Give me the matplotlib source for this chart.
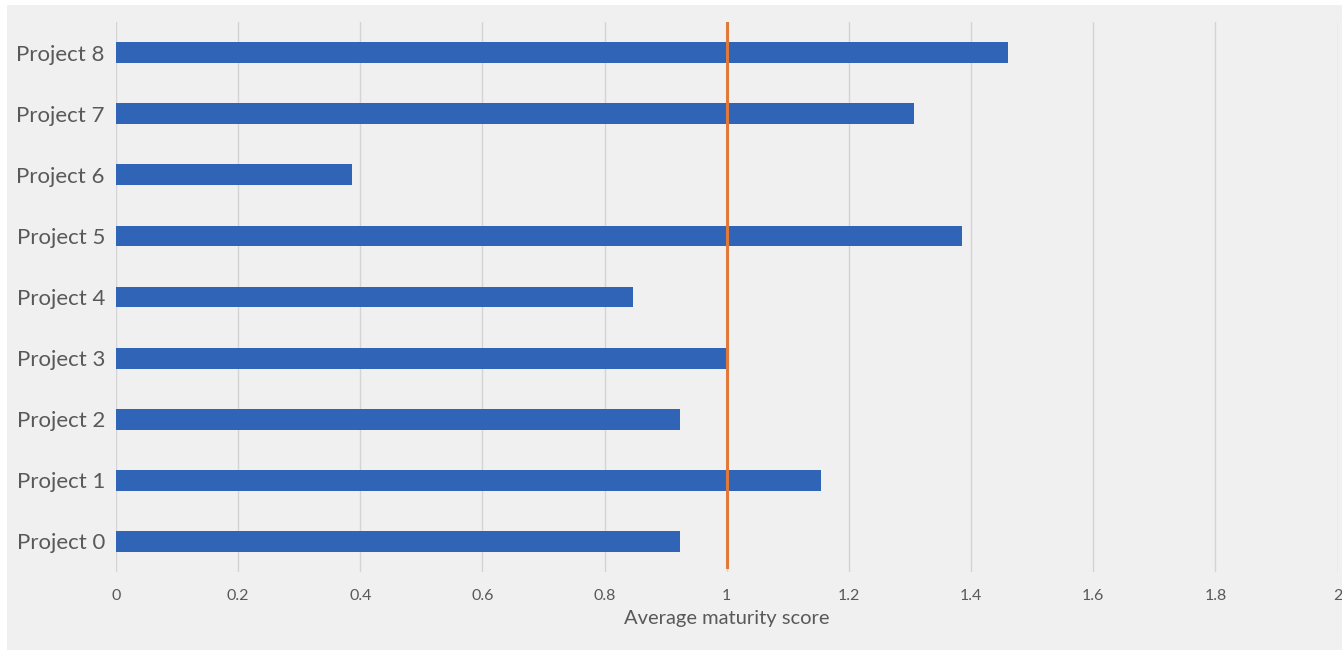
import matplotlib.pyplot as plt
from matplotlib.patches import Rectangle

projects = ["Project 0", "Project 1", "Project 2", "Project 3", "Project 4",
            "Project 5", "Project 6", "Project 7", "Project 8"]
scores = [0.924, 1.155, 0.924, 1.0, 0.847, 1.386, 0.387, 1.307, 1.461]
threshold = 1.0
x_ticks = [0, 0.2, 0.4, 0.6, 0.8, 1.0, 1.2, 1.4, 1.6, 1.8, 2.0]
x_tick_labels = ["0", "0.2", "0.4", "0.6", "0.8", "1", "1.2", "1.4", "1.6", "1.8", "2"]

W, H = 1342, 654
fig = plt.figure(figsize=(W / 100, H / 100), dpi=100, facecolor="white")

# light grey chart area inside a thin white margin
fig.patches.append(Rectangle((7 / W, 1 - 650 / H), (W - 7) / W, (650 - 5) / H,
                             transform=fig.transFigure, facecolor="#f0f0f0",
                             edgecolor="none", zorder=-10))

ax = fig.add_axes([116 / W, 1 - 572 / H, (1337.5 - 116) / W, (572 - 22) / H])
ax.set_zorder(5)
ax.set_facecolor("none")

text_color = "#595959"
font = ["Lato", "DejaVu Sans"]

ax.barh(range(len(projects)), scores, height=0.34, color="#3064b7", zorder=3)
ax.axvline(threshold, ymin=0.01, ymax=1.0, color="#e07a3c", lw=2.2, zorder=4)

ax.set_xlim(0, 2)
ax.set_ylim(-0.5, len(projects) - 0.5)
ax.set_xticks(x_ticks)
ax.set_xticklabels(x_tick_labels, fontsize=11.5, color=text_color, family=font)
ax.set_yticks(range(len(projects)))
ax.set_yticklabels(projects, fontsize=16, color=text_color, family=font)
ax.tick_params(axis="both", length=0)
ax.tick_params(axis="x", pad=12)
ax.tick_params(axis="y", pad=8)

ax.grid(axis="x", color="#d4d4d4", lw=1, zorder=0)
for s in ax.spines.values():
    s.set_visible(False)

ax.set_xlabel("Average maturity score", fontsize=14.5, color=text_color,
              family=font, labelpad=5)

fig.savefig("out.png", dpi=100, facecolor="white")
